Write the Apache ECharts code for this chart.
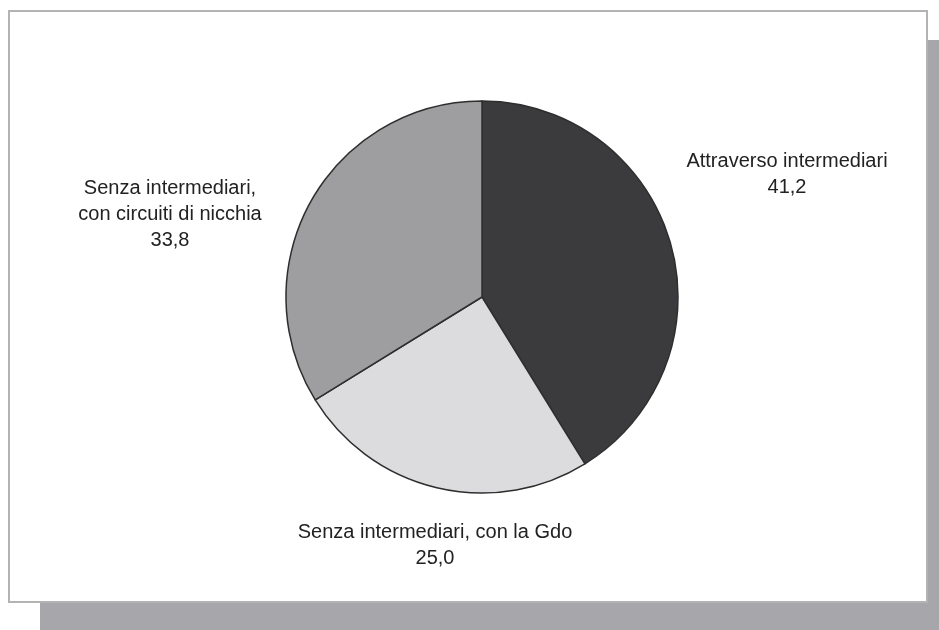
<!DOCTYPE html>
<html>
<head>
<meta charset="utf-8">
<script src="https://cdn.jsdelivr.net/npm/echarts@6/dist/echarts.min.js"></script>
<style>
  html, body { margin: 0; padding: 0; background: #ffffff; }
  #chart { width: 939px; height: 630px; }
</style>
</head>
<body>
<div id="chart"></div>
<script>
// Canali di vendita (quote percentuali)
const categories = [
  'Attraverso intermediari',
  'Senza intermediari, con la Gdo',
  'Senza intermediari,\ncon circuiti di nicchia'
];
const values = [41.2, 25.0, 33.8];
const sliceColors = ['#3b3b3d', '#dcdcde', '#9e9ea1'];

// label anchor points (centre of each text block)
const labelAnchors = [
  [787, 174],
  [435, 545],
  [170, 214]
];

const chart = echarts.init(document.getElementById('chart'), null, { renderer: 'canvas' });

chart.setOption({
  animation: false,
  backgroundColor: '#ffffff',
  graphic: [
    { type: 'rect', z: -10, shape: { x: 40, y: 40, width: 899, height: 590 }, style: { fill: '#a7a7ab' } },
    { type: 'rect', z: -9, shape: { x: 9, y: 11, width: 918, height: 591 }, style: { fill: '#ffffff', stroke: '#b3b3b3', lineWidth: 2 } }
  ],
  series: [{
    type: 'pie',
    center: [482, 297],
    radius: [0, 196],
    startAngle: 90,
    clockwise: true,
    data: categories.map((name, i) => ({
      name: name,
      value: values[i],
      itemStyle: { color: sliceColors[i] }
    })),
    itemStyle: { borderColor: '#2e2e2e', borderWidth: 1.5 },
    label: {
      show: true,
      formatter: p => p.name + '\n' + p.value.toFixed(1).replace('.', ','),
      fontFamily: 'Liberation Sans, Arial, sans-serif',
      fontSize: 20,
      lineHeight: 26,
      color: '#222222',
      align: 'center'
    },
    labelLine: { show: false },
    labelLayout: params => ({
      x: labelAnchors[params.dataIndex][0],
      y: labelAnchors[params.dataIndex][1],
      align: 'center',
      verticalAlign: 'middle'
    }),
    emphasis: { disabled: true }
  }]
});
</script>
</body>
</html>
